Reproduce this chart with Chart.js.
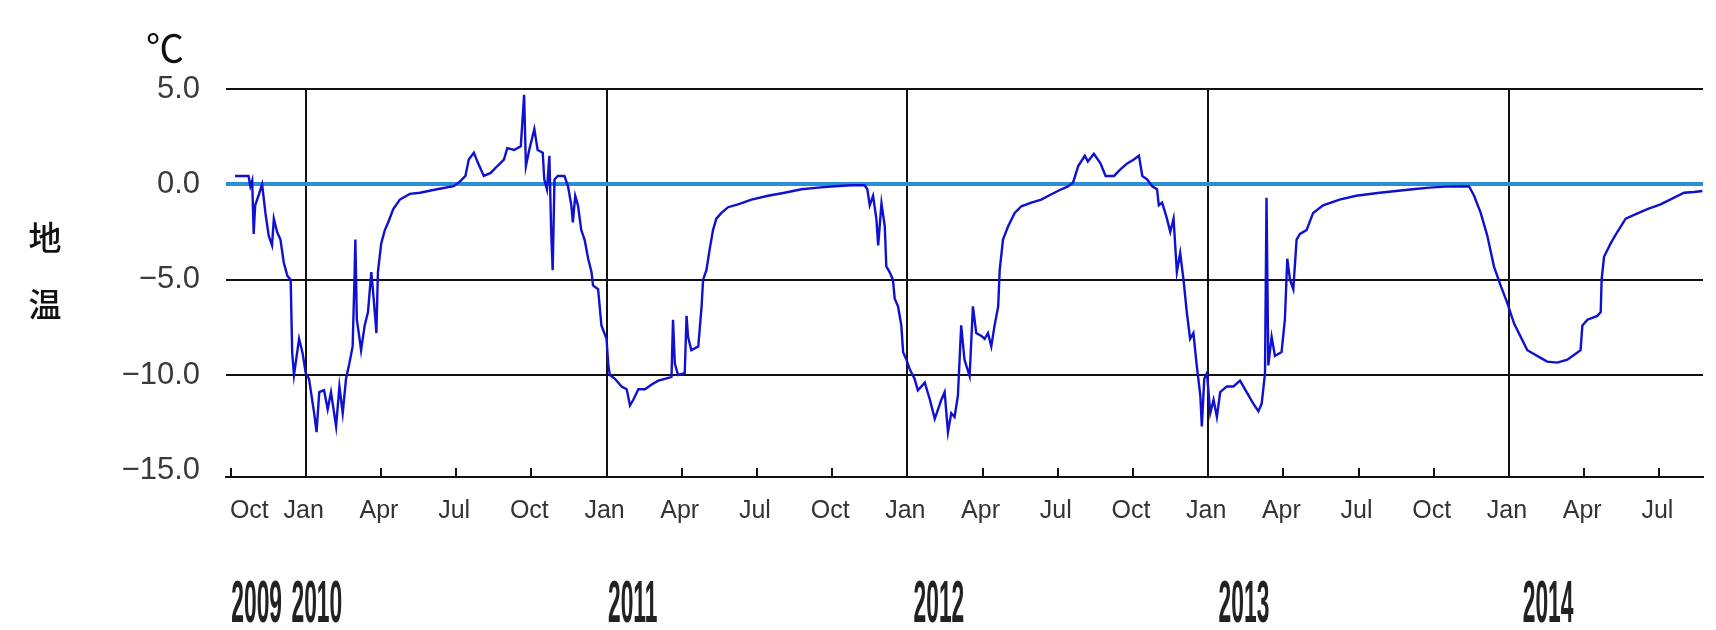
<!DOCTYPE html>
<html><head><meta charset="utf-8">
<script src="https://cdn.jsdelivr.net/npm/chart.js@4"></script>
<style>html,body{margin:0;padding:0;background:#fff;}#wrap{position:relative;width:1716px;height:630px;}</style>
</head><body><div id="wrap"><canvas id="c" width="1716" height="630"></canvas></div>
<script>
// decimal-year dates and ground temperature (°C)
const dates = [
2009.765,2009.810,2009.816,2009.822,2009.827,2009.832,2009.845,2009.855,2009.866,2009.877,2009.888,2009.894,2009.905,2009.916,2009.927,2009.939,2009.950,2009.955,2009.961,2009.978,2009.989,
2010.000,2010.011,2010.028,2010.036,2010.045,2010.061,2010.073,2010.084,2010.101,2010.112,2010.123,2010.134,2010.145,2010.156,2010.162,2010.165,2010.170,2010.179,2010.184,2010.196,2010.207,2010.218,2010.226,2010.235,2010.240,2010.251,2010.263,2010.274,2010.291,2010.313,2010.346,2010.380,2010.436,2010.492,2010.514,2010.531,2010.542,2010.559,2010.570,2010.592,2010.615,2010.637,2010.659,2010.670,2010.693,2010.715,2010.726,2010.732,2010.743,2010.760,2010.771,2010.788,2010.793,2010.802,2010.810,2010.816,2010.821,2010.827,2010.838,2010.860,2010.872,2010.883,2010.888,2010.896,2010.905,2010.916,2010.927,2010.939,2010.950,2010.955,2010.972,2010.983,
2011.000,2011.006,2011.011,2011.028,2011.050,2011.067,2011.078,2011.089,2011.106,2011.128,2011.150,2011.172,2011.194,2011.216,2011.221,2011.227,2011.238,2011.260,2011.266,2011.271,2011.282,2011.305,2011.316,2011.321,2011.332,2011.343,2011.354,2011.365,2011.382,2011.404,2011.437,2011.482,2011.537,2011.592,2011.648,2011.703,2011.759,2011.814,2011.858,2011.867,2011.875,2011.886,2011.897,2011.903,2011.914,2011.925,2011.930,2011.941,2011.952,2011.958,2011.969,2011.980,2011.986,2011.997,
2012.008,2012.024,2012.035,2012.058,2012.075,2012.091,2012.102,2012.113,2012.124,2012.135,2012.146,2012.157,2012.168,2012.179,2012.190,2012.207,2012.218,2012.229,2012.246,2012.257,2012.268,2012.279,2012.290,2012.302,2012.307,2012.318,2012.335,2012.357,2012.379,2012.412,2012.445,2012.479,2012.512,2012.535,2012.551,2012.568,2012.590,2012.600,2012.620,2012.642,2012.659,2012.687,2012.709,2012.731,2012.753,2012.770,2012.781,2012.797,2012.814,2012.830,2012.836,2012.847,2012.863,2012.874,2012.885,2012.896,2012.907,2012.918,2012.929,2012.940,2012.951,2012.962,2012.974,2012.979,2012.987,2012.996,
2013.007,2013.018,2013.029,2013.040,2013.062,2013.084,2013.106,2013.128,2013.150,2013.167,2013.178,2013.189,2013.194,2013.200,2013.211,2013.222,2013.244,2013.255,2013.263,2013.272,2013.283,2013.294,2013.305,2013.327,2013.349,2013.382,2013.437,2013.492,2013.570,2013.625,2013.680,2013.735,2013.790,2013.867,2013.884,2013.906,2013.928,2013.950,2013.972,2013.994,
2014.017,2014.039,2014.061,2014.083,2014.105,2014.127,2014.161,2014.194,2014.216,2014.238,2014.244,2014.261,2014.294,2014.305,2014.308,2014.316,2014.338,2014.360,2014.388,2014.416,2014.460,2014.504,2014.549,2014.582,2014.615,2014.643
];
const temps = [
0.44,0.44,-0.1,0.2,-2.6,-1.1,-0.5,0.0,-1.5,-2.7,-3.2,-1.8,-2.5,-2.9,-4.1,-4.8,-5.0,-8.8,-10.0,-8.1,-8.8,
-9.9,-10.2,-12.0,-13.0,-10.9,-10.8,-11.8,-10.9,-12.7,-10.6,-12.0,-10.2,-9.4,-8.5,-5.0,-2.9,-7.1,-8.1,-8.7,-7.4,-6.7,-4.6,-6.0,-7.8,-4.6,-3.1,-2.4,-2.0,-1.3,-0.8,-0.5,-0.44,-0.26,-0.1,0.17,0.44,1.3,1.66,1.22,0.44,0.6,0.96,1.3,1.9,1.8,2.0,4.7,0.96,1.8,2.9,1.8,1.66,0.26,-0.26,1.5,-2.5,-4.5,0.26,0.44,0.44,-0.1,-1.1,-2.0,-0.6,-1.1,-2.4,-2.9,-3.9,-4.6,-5.3,-5.5,-7.4,
-8.1,-9.5,-10.0,-10.2,-10.6,-10.75,-11.6,-11.3,-10.75,-10.75,-10.5,-10.3,-10.2,-10.1,-7.1,-9.4,-10.0,-9.9,-6.9,-8.0,-8.7,-8.5,-6.4,-5.0,-4.5,-3.4,-2.4,-1.8,-1.5,-1.2,-1.05,-0.8,-0.6,-0.44,-0.26,-0.17,-0.1,-0.05,-0.05,-0.26,-1.1,-0.6,-1.8,-3.2,-1.0,-2.2,-4.3,-4.6,-5.0,-6.0,-6.4,-7.4,-8.8,-9.2,
-9.7,-10.2,-10.8,-10.4,-11.3,-12.3,-11.8,-11.3,-10.9,-13.0,-12.0,-12.2,-11.1,-7.4,-9.2,-10.05,-6.4,-7.8,-7.95,-8.1,-7.8,-8.5,-7.4,-6.4,-4.5,-2.9,-2.2,-1.5,-1.15,-0.96,-0.8,-0.52,-0.26,-0.1,0.1,0.96,1.5,1.2,1.6,1.1,0.44,0.44,0.8,1.1,1.3,1.5,0.44,0.26,-0.1,-0.26,-1.1,-0.96,-1.8,-2.5,-1.8,-4.6,-3.6,-5.0,-6.7,-8.1,-7.8,-9.5,-11.1,-12.7,-10.2,-9.9,
-12.0,-11.3,-12.2,-10.9,-10.6,-10.6,-10.3,-10.9,-11.5,-11.9,-11.5,-9.9,-0.7,-9.5,-8.0,-9.0,-8.8,-7.1,-3.9,-5.0,-5.5,-2.9,-2.6,-2.4,-1.5,-1.1,-0.8,-0.6,-0.44,-0.35,-0.26,-0.17,-0.12,-0.1,-0.6,-1.5,-2.7,-4.3,-5.3,-6.2,
-7.3,-8.0,-8.7,-8.9,-9.1,-9.3,-9.35,-9.2,-8.95,-8.7,-7.4,-7.1,-6.9,-6.7,-5.0,-3.8,-3.1,-2.5,-1.8,-1.6,-1.3,-1.05,-0.7,-0.44,-0.4,-0.35
];
const xTickValues = [2009.75,2010,2010.25,2010.5,2010.75,2011,2011.25,2011.5,2011.75,2012,2012.25,2012.5,2012.75,2013,2013.25,2013.5,2013.75,2014,2014.25,2014.5];
const xTickLabels = ['Oct','Jan','Apr','Jul','Oct','Jan','Apr','Jul','Oct','Jan','Apr','Jul','Oct','Jan','Apr','Jul','Oct','Jan','Apr','Jul'];
const yTickValues = [5, 0, -5, -10, -15];
const yTickLabels = ['5.0', '0.0', '−5.0', '−10.0', '−15.0'];
const yearLabels = ['2009','2010','2011','2012','2013','2014'];
const yearPositions = [2009.837, 2010.037, 2011.087, 2012.105, 2013.119, 2014.130];
const unitLabel = '℃';
const axisTitleChars = ['地','温'];

const isJan = v => Math.abs(v - Math.round(v)) < 1e-6;

const textPlugin = {
  id: 'texts',
  afterDraw(chart) {
    const ctx = chart.ctx, xs = chart.scales.x;
    ctx.save();
    ctx.fillStyle = '#222';
    ctx.textAlign = 'center';
    ctx.textBaseline = 'alphabetic';
    ctx.font = 'bold 60px "Liberation Sans", Arial, sans-serif';
    yearLabels.forEach((lab, i) => {
      const px = xs.getPixelForValue(yearPositions[i]);
      ctx.save();
      ctx.translate(px, 622);
      ctx.scale(0.38, 1);
      ctx.fillText(lab, 0, 0);
      ctx.restore();
    });
    ctx.fillStyle = '#111';
    ctx.textAlign = 'left';
    ctx.font = '38px "Noto Sans CJK JP", sans-serif';
    ctx.fillText(unitLabel, 146, 62);
    ctx.font = '500 33px "Noto Sans CJK JP", sans-serif';
    ctx.textAlign = 'center';
    ctx.textBaseline = 'middle';
    ctx.fillText(axisTitleChars[0], 45, 237);
    ctx.fillText(axisTitleChars[1], 45, 304);
    ctx.restore();
  }
};

new Chart(document.getElementById('c').getContext('2d'), {
  type: 'line',
  data: { datasets: [{
    data: dates.map((d, i) => ({ x: d, y: temps[i] })),
    borderColor: '#1010d0', borderWidth: 2.4, pointRadius: 0, tension: 0, fill: false
  }]},
  options: {
    responsive: false, animation: false, events: [],
    layout: { padding: { left: 0, right: 13, top: 89, bottom: 0 } },
    plugins: { legend: { display: false }, tooltip: { enabled: false } },
    scales: {
      x: {
        type: 'linear', min: 2009.735, max: 2014.645,
        afterBuildTicks: s => { s.ticks = xTickValues.map(v => ({ value: v })); },
        afterFit: s => { s.height = 153; },
        grid: {
          color: c => (c.tick && isJan(c.tick.value)) ? '#111' : 'rgba(0,0,0,0)',
          lineWidth: 2, drawTicks: true, tickLength: -9, tickWidth: 2, tickColor: '#111'
        },
        border: { display: true, color: '#111', width: 2 },
        ticks: {
          autoSkip: false, maxRotation: 0, minRotation: 0,
          callback: (v, i) => (i === 0 ? '      ' : '') + xTickLabels[i],
          labelOffset: -2, padding: 28,
          font: { family: '"Liberation Sans", Arial, sans-serif', size: 25 }, color: '#333'
        }
      },
      y: {
        min: -15.35, max: 5,
        afterBuildTicks: s => { s.ticks = yTickValues.map(v => ({ value: v })); },
        afterFit: s => { s.width = 226; },
        grid: {
          color: c => !c.tick ? 'rgba(0,0,0,0)' : (c.tick.value === 0 ? '#2b8fd6' : (c.tick.value === -15 ? 'rgba(0,0,0,0)' : '#111')),
          lineWidth: c => (c.tick && c.tick.value === 0) ? 4 : 2,
          drawTicks: false
        },
        border: { display: false },
        ticks: {
          callback: (v, i) => yTickLabels[i],
          padding: 26,
          font: { family: '"Liberation Sans", Arial, sans-serif', size: 31 }, color: '#3a3a3a'
        }
      }
    }
  },
  plugins: [textPlugin]
});
</script></body></html>
